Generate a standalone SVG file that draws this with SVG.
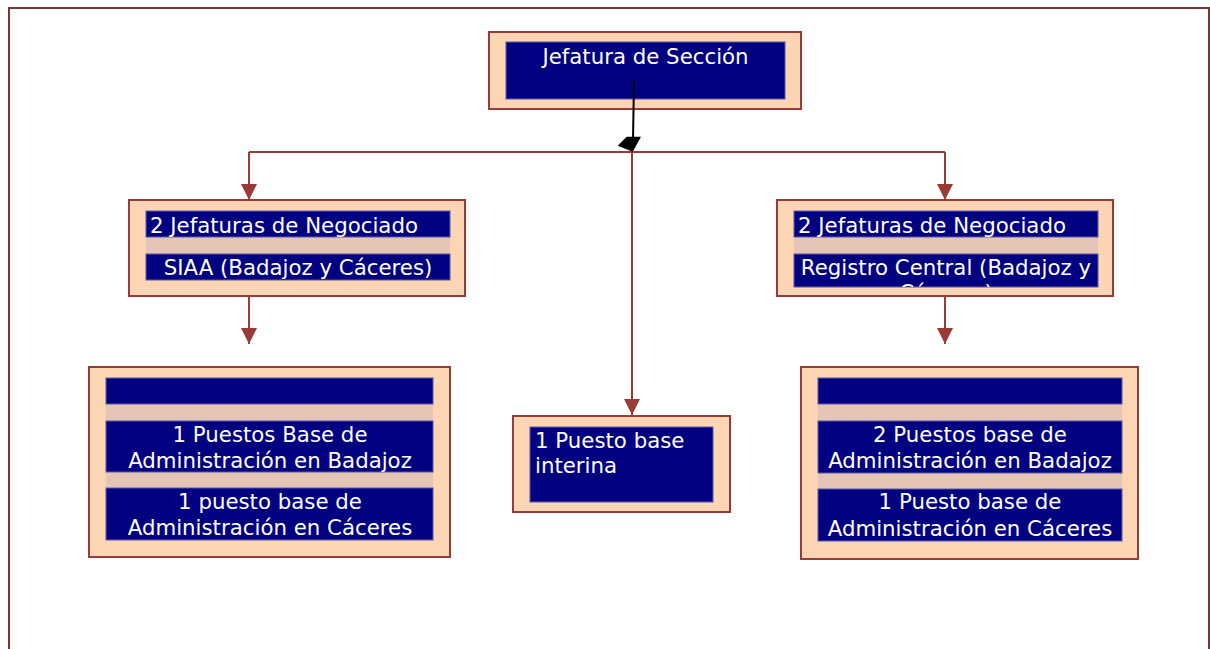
<svg xmlns="http://www.w3.org/2000/svg" width="1210" height="649" viewBox="0 0 1210 649">
<style>
.box{fill:#fcd5b4;stroke:#993b36;stroke-width:2}
.nv{fill:#000080;stroke:#5a5aa6;stroke-width:1}
.band{fill:#e5c5b5}
.t{font-family:"DejaVu Sans",Verdana,sans-serif;font-size:21.3px;fill:#ffffff}
.c{text-anchor:middle}
.con{fill:none;stroke:#993b36;stroke-width:2}
</style>
<defs>
<marker id="ah" markerUnits="userSpaceOnUse" viewBox="0 0 16 16" markerWidth="16" markerHeight="16" refX="16" refY="8" orient="auto">
<path d="M0,0 L16,8 L0,16 z" fill="#993b36"/>
</marker>
<clipPath id="clipR"><rect x="794" y="254" width="304" height="33"/></clipPath>
</defs>
<rect x="9" y="8" width="1200" height="660" fill="#ffffff" stroke="#7a3535" stroke-width="2"/>

<g id="connectors">
<path class="con" d="M249,152 H945"/>
<path class="con" d="M249,152 V200" marker-end="url(#ah)"/>
<path class="con" d="M945,152 V200" marker-end="url(#ah)"/>
<path class="con" d="M632,152 V415" marker-end="url(#ah)"/>
<path class="con" d="M249,297 V344" marker-end="url(#ah)"/>
<path class="con" d="M945,297 V344" marker-end="url(#ah)"/>
</g>

<g id="jefatura">
<rect class="box" x="489" y="32" width="312" height="77"/>
<rect class="nv" x="506" y="42" width="279" height="57"/>
<text class="t c" x="645.5" y="64">Jefatura de Sección</text>
</g>

<g id="black-arrow">
<line x1="634" y1="80" x2="633" y2="140" stroke="#000" stroke-width="2"/>
<polygon points="617.7,145.7 632.7,151.7 641,136.7 626.7,136.7" fill="#000"/>
</g>

<g id="neg-siaa">
<rect class="box" x="129" y="200" width="336" height="96"/>
<rect class="band" x="146" y="237" width="304" height="17"/>
<rect class="nv" x="146" y="211" width="304" height="26"/>
<rect class="nv" x="146" y="254" width="304" height="26"/>
<text class="t" x="150" y="233">2 Jefaturas de Negociado</text>
<text class="t c" x="298" y="275">SIAA (Badajoz y Cáceres)</text>
</g>

<g id="neg-registro">
<rect class="box" x="777" y="200" width="336" height="96"/>
<rect class="band" x="794" y="237" width="304" height="17"/>
<rect class="nv" x="794" y="211" width="304" height="26"/>
<rect class="nv" x="794" y="254" width="304" height="33"/>
<text class="t" x="798" y="233">2 Jefaturas de Negociado</text>
<g clip-path="url(#clipR)">
<text class="t c" x="946" y="275">Registro Central (Badajoz y</text>
<text class="t c" x="946" y="300">Cáceres)</text>
</g>
</g>

<g id="puestos-siaa">
<rect class="box" x="89" y="367" width="361" height="190"/>
<rect class="band" x="106" y="404" width="327" height="84"/>
<rect class="nv" x="106" y="378" width="327" height="26"/>
<rect class="nv" x="106" y="421" width="327" height="51"/>
<rect class="nv" x="106" y="488" width="327" height="52"/>
<text class="t c" x="270" y="442">1 Puestos Base de</text>
<text class="t c" x="270" y="468">Administración en Badajoz</text>
<text class="t c" x="270" y="509">1 puesto base de</text>
<text class="t c" x="270" y="535">Administración en Cáceres</text>
</g>

<g id="interina">
<rect class="box" x="513" y="416" width="217" height="96"/>
<rect class="nv" x="530" y="427" width="183" height="75"/>
<text class="t" x="535" y="448">1 Puesto base</text>
<text class="t" x="535" y="473">interina</text>
</g>

<g id="puestos-registro">
<rect class="box" x="801" y="367" width="337" height="192"/>
<rect class="band" x="818" y="404" width="304" height="85"/>
<rect class="nv" x="818" y="378" width="304" height="26"/>
<rect class="nv" x="818" y="421" width="304" height="52"/>
<rect class="nv" x="818" y="489" width="304" height="52"/>
<text class="t c" x="970" y="442">2 Puestos base de</text>
<text class="t c" x="970" y="468">Administración en Badajoz</text>
<text class="t c" x="970" y="509">1 Puesto base de</text>
<text class="t c" x="970" y="536">Administración en Cáceres</text>
</g>
</svg>
